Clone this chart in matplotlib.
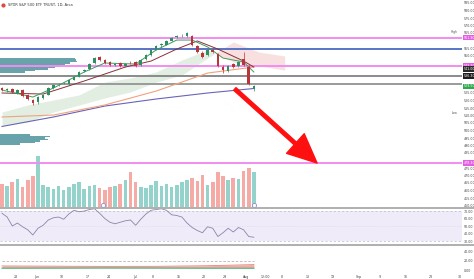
import numpy as np
import matplotlib
matplotlib.use("Agg")
import matplotlib.pyplot as plt
from matplotlib.lines import Line2D
import matplotlib.transforms as mtransforms

# ---- data (daily bars, price in $) ----
opens = [528.5, 526.8, 527.9, 525.2, 527.2, 523.5, 520.5, 518.8, 522.0, 524.0,
         528.5, 530.8, 531.5, 531.2, 534.0, 536.0, 539.5, 541.0, 545.0, 548.8,
         547.3, 545.5, 543.5, 544.8, 543.2, 545.3, 546.0, 543.5, 547.5, 550.6,
         554.0, 556.8, 557.3, 560.0, 562.2, 563.5, 563.2, 563.0, 556.5, 552.0,
         550.2, 554.0, 551.0, 542.5, 540.0, 544.2, 543.0, 548.0, 542.5, 527.5]
highs = [529.3, 528.5, 528.6, 527.8, 527.9, 524.2, 521.2, 523.0, 524.6, 529.0,
         531.2, 531.9, 532.6, 534.4, 536.4, 539.8, 541.2, 545.0, 549.2, 549.5,
         548.0, 546.2, 545.0, 545.5, 545.0, 546.1, 546.6, 547.6, 551.0, 554.5,
         557.0, 558.4, 560.3, 562.4, 563.8, 564.5, 566.0, 563.6, 557.2, 553.0,
         554.5, 555.0, 551.8, 543.4, 543.8, 545.0, 546.4, 552.5, 543.4, 530.4]
lows = [526.2, 526.0, 525.0, 524.6, 522.4, 520.2, 517.2, 518.0, 521.3, 523.4,
        527.8, 529.9, 530.8, 530.6, 533.4, 535.4, 538.8, 540.4, 544.4, 546.2,
        544.4, 542.8, 542.7, 542.4, 542.6, 544.2, 542.4, 542.8, 547.0, 550.0,
        553.4, 555.9, 556.8, 559.4, 561.6, 562.6, 562.5, 556.2, 551.6, 548.2,
        549.6, 551.5, 542.3, 538.6, 539.2, 541.6, 542.2, 543.0, 530.2, 526.5]
closes = [527.0, 527.7, 525.7, 527.0, 523.0, 521.0, 518.3, 522.3, 523.7, 528.3,
          530.3, 531.0, 531.7, 533.7, 535.7, 539.0, 540.3, 544.3, 548.3, 547.0,
          545.0, 543.7, 544.3, 543.0, 544.3, 545.0, 543.0, 547.0, 550.3, 553.7,
          556.3, 557.7, 559.7, 561.7, 563.0, 563.7, 565.0, 557.0, 552.3, 549.0,
          553.7, 552.3, 543.0, 540.3, 543.0, 542.3, 545.7, 543.7, 531.0, 529.5]
volume_m = [42, 38, 45, 50, 36, 48, 55, 91, 40, 35, 33, 38, 30, 36, 41, 45, 32,
            37, 40, 34, 30, 35, 38, 42, 48, 62, 44, 36, 34, 40, 46, 38, 42, 36,
            40, 45, 48, 52, 46, 58, 40, 44, 62, 56, 48, 52, 50, 65, 70, 62]
rsi = [67, 62, 50, 54, 49, 45, 38, 47, 51, 58, 61, 62, 59, 66, 71, 69, 70, 72,
       73, 67, 60, 55, 53, 55, 57, 58, 51, 59, 66, 71, 72, 73, 71, 65, 64, 62,
       54, 48, 44, 41, 49, 47, 36, 41, 47, 42, 48, 45, 36, 35]

# moving averages (sampled bars)
ma_long_bars = [0, 10, 20, 30, 40, 49]
ma_long = [502.7, 509.0, 516.3, 521.0, 525.0, 528.0]
ma_mid = [509.0, 510.3, 517.0, 526.3, 538.3, 542.3]
ma_slow_bars = [0, 8, 16, 24, 29, 34, 38, 42, 47, 49]
ma_slow = [525.0, 524.3, 533.0, 542.3, 546.3, 554.3, 559.7, 554.3, 546.3, 542.3]
ma_fast_bars = [0, 6, 10, 16, 20, 26, 30, 34, 37, 40, 43, 47, 49]
ma_fast = [527.0, 522.3, 528.3, 539.0, 545.0, 544.3, 553.7, 560.3, 560.3, 555.7,
           548.3, 545.7, 539.0]

# ichimoku cloud
cloud_bars = [0, 5, 10, 15, 20, 25, 30, 35, 40, 45, 50, 55]
span_a = [512.3, 517.0, 520.3, 523.7, 532.3, 535.0, 539.0, 547.0, 553.7, 545.7, 543.0, 540.3]
span_b = [503.7, 505.7, 512.3, 517.0, 521.7, 525.7, 532.3, 537.0, 548.3, 559.0, 552.3, 549.7]

# visible range volume profile
vp_prices = [548.0, 547.0, 546.0, 545.0, 544.0, 543.0, 542.0, 541.0, 540.0, 539.0,
             497.0, 496.0, 495.0, 494.0, 493.0, 492.0, 491.0]
vp_width = [14.5, 14.8, 15.0, 13.6, 12.6, 11.7, 10.7, 9.3, 6.8, 4.9,
            5.8, 9.7, 8.8, 9.3, 7.8, 6.8, 3.9]

# horizontal levels
levels = [561.9, 554.3, 543.2, 536.3, 531.0, 478.3]
level_colors = ["#f28cf0", "#5874c4", "#f28cf0", "#8a8a8a", "#9a9a9a", "#f28cf0"]

# price tags on the right scale
tag_prices = [561.9, 543.2, 541.0, 536.3, 529.5, 478.3]
tag_colors = ["#e35ee0", "#e35ee0", "#2b2b2b", "#1e1e1e", "#2fa84f", "#e35ee0"]

# lower indicator pane
ind_bars = [0, 10, 20, 30, 40, 49]
ind_red = [9.0, 8.5, 8.0, 8.2, 9.5, 12.0]
ind_green = [4.0, 4.2, 4.5, 4.3, 4.0, 3.8]

# arrow (from bar, price) -> (bar, price)
arrow_start = (45.3, 527.7)
arrow_end = (61.3, 478.3)

tick_pos = [2.7, 6.8, 11.7, 16.7, 20.8, 25.9, 29.4, 34.4, 39.3, 43.4, 47.5,
            51.2, 54.5, 59.5, 64.4, 69.5, 73.5, 78.6, 83.5, 89.1]
tick_lbl = ["28", "Jun", "10", "17", "24", "Jul", "8", "15", "22", "29", "Aug",
            "12:00", "8", "13", "19", "Sep", "9", "16", "23", "30"]

bars = np.arange(len(closes))
o = np.array(opens); c = np.array(closes)
up = c >= o

W, H = 474, 279
FS = 2.3
fig = plt.figure(figsize=(W / 100, H / 100), dpi=100)
fig.patch.set_facecolor("white")

def frac(top, bottom):
    return [0, 1 - bottom / H, 462 / W, (bottom - top) / H]

ax = fig.add_axes(frac(0, 207))
ax_rsi = fig.add_axes(frac(209, 244))
ax_ind = fig.add_axes(frac(246, 271))
ax_vol = ax.twinx()
ax.set_zorder(ax_vol.get_zorder() + 1)
ax.patch.set_visible(False)

XL = (-0.39, 89.5)
for a in (ax, ax_rsi, ax_ind, ax_vol):
    a.set_xlim(*XL)
    for s in a.spines.values():
        s.set_visible(False)
    a.tick_params(length=0, labelsize=FS, colors="#444444", pad=1.2)
    a.set_xticks([])

# volume
ax_vol.set_ylim(0, 370)
ax_vol.set_yticks([])
vcol = np.where(up, "#93d3cc", "#f6aaa6")
ax_vol.bar(bars, volume_m, width=0.7, color=vcol)

# main price pane
ax.set_ylim(449, 587)
ax.yaxis.tick_right()
yt = [v for v in np.arange(450, 590, 5) if min(abs(v - t) for t in tag_prices) > 3]
ax.set_yticks(yt)
ax.set_yticklabels([f"{v:.2f}" for v in yt])

ax.fill_between(cloud_bars, span_a, span_b, where=np.array(span_a) >= np.array(span_b),
                interpolate=True, color="#e1eee1", lw=0, zorder=1)
ax.fill_between(cloud_bars, span_a, span_b, where=np.array(span_a) < np.array(span_b),
                interpolate=True, color="#f8e0e0", lw=0, zorder=1)

ax.barh(vp_prices, vp_width, height=1.0, left=XL[0], color="#4e939c", alpha=0.85, zorder=2)

for lv, lc in zip(levels, level_colors):
    ax.axhline(lv, color=lc, lw=1.4, zorder=3)

ax.plot(ma_long_bars, ma_long, color="#6a63b8", lw=0.8, zorder=4)
ax.plot(ma_long_bars, ma_mid, color="#f2a27e", lw=0.8, zorder=4)
ax.plot(ma_slow_bars, ma_slow, color="#8c2f39", lw=0.7, zorder=4)
ax.plot(ma_fast_bars, ma_fast, color="#3f9a5c", lw=0.7, zorder=4)

ccol = np.where(up, "#2f8f62", "#b8363a")
ax.vlines(bars, lows, highs, colors=ccol, lw=0.5, zorder=5)
ax.bar(bars, np.abs(c - o), bottom=np.minimum(o, c), width=0.5, color=ccol, zorder=6)

ax.annotate("", xy=arrow_end, xytext=arrow_start,
            arrowprops=dict(arrowstyle="simple,head_length=2.1,head_width=1.9,tail_width=0.25",
                            color="#ff1010", mutation_scale=10, shrinkA=0, shrinkB=0),
            zorder=7)

# price tags on the right axis
tr = mtransforms.blended_transform_factory(ax.transAxes, ax.transData)
for p, bc in zip(tag_prices, tag_colors):
    ax.text(1.004, p, f"{p:.2f}", transform=tr, ha="left", va="center", fontsize=FS,
            color="white", clip_on=False, zorder=10,
            bbox=dict(boxstyle="square,pad=0.2", fc=bc, ec="none"))
ax.text(0.99, 565.6, "High", transform=tr, ha="right", va="center", fontsize=2.2, color="#555555")
ax.text(0.99, 511.6, "Low", transform=tr, ha="right", va="center", fontsize=2.2, color="#555555")

fig.text(8 / W, 1 - 5 / H, "SPDR S&P 500 ETF TRUST, 1D, Arca", fontsize=2.6,
         color="#333333", va="center", ha="left")
fig.add_artist(Line2D([3 / W], [1 - 5 / H], marker="o", ms=2, color="#e04a3a",
                      transform=fig.transFigure))

# event markers under volume
ax_vol.plot([19.6, 49], [4, 4], ls="none", marker="o", ms=3, mfc="white",
            mec="#8a8fd8", mew=0.6, clip_on=False)

# RSI pane
ax_rsi.set_ylim(26, 72.7)
ax_rsi.yaxis.tick_right()
ax_rsi.set_yticks([30, 40, 50, 60, 70])
ax_rsi.set_yticklabels(["30.00", "40.00", "50.00", "60.00", "70.00"])
ax_rsi.axhspan(30, 70, color="#efebf8", lw=0)
for lv in (30, 70):
    ax_rsi.axhline(lv, color="#b9b6c9", lw=0.5, ls=(0, (3, 3)))
ax_rsi.axhline(50, color="#d0cde0", lw=0.4, ls=(0, (1, 2)))
ax_rsi.plot(bars, rsi, color="#8c84aa", lw=0.6)

# lower indicator pane
ax_ind.set_ylim(-2.2, 53.3)
ax_ind.yaxis.tick_right()
ax_ind.set_yticks([0, 20, 40])
ax_ind.set_yticklabels(["0.00", "20.00", "40.00"])
ax_ind.plot([bars[0], bars[-1]], [20, 20], color="#b5b5b5", lw=0.6, ls=(0, (3, 2)))
ax_ind.fill_between(ind_bars, ind_green, ind_red, color="#f3a9a4", lw=0)
ax_ind.plot(ind_bars, ind_red, color="#ef7d78", lw=0.6)
ax_ind.plot(ind_bars, ind_green, color="#5cbf8a", lw=0.9)
ax_ind.set_xticks(tick_pos)
ax_ind.set_xticklabels(tick_lbl)
ax_ind.tick_params(axis="x", pad=3)

# pane separators
for yy in (208, 245):
    fig.add_artist(Line2D([0, 1], [1 - yy / H] * 2, transform=fig.transFigure,
                          color="#a9a9a9", lw=1.3))

fig.savefig("out.png", dpi=100)
